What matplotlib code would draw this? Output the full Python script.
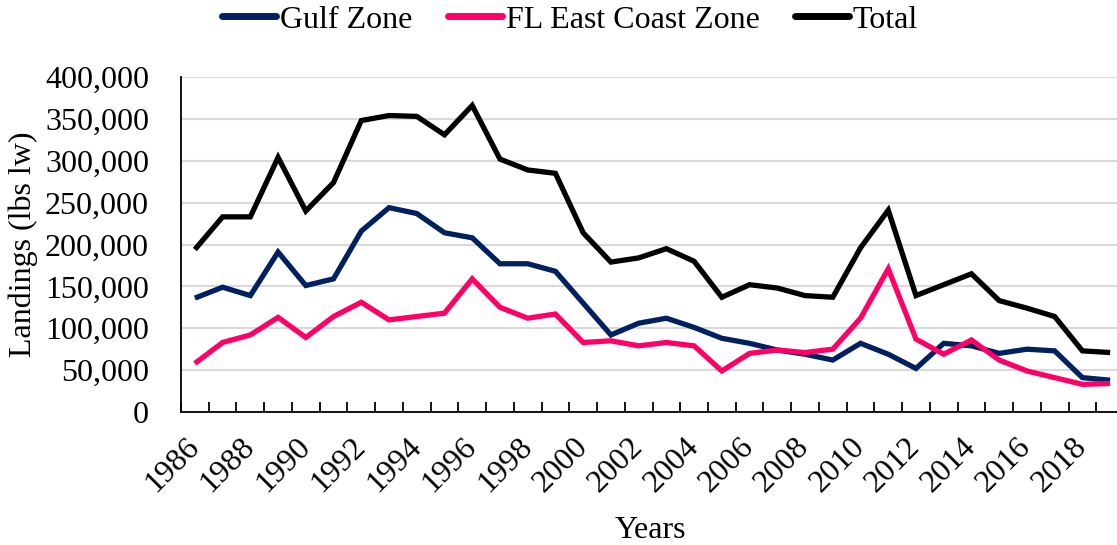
import matplotlib
matplotlib.use("Agg")
import matplotlib.pyplot as plt
from matplotlib.ticker import FuncFormatter, FixedLocator

years = list(range(1986, 2020))
gulf = [136000, 149000, 139000, 191000, 151000, 159000, 216000, 244000, 237000, 214000, 208000,
        177000, 177000, 168000, 130000, 92000, 106000, 112000, 101000, 88000, 82000, 74000,
        69000, 62000, 82000, 69000, 52000, 82000, 79000, 70000, 75000, 73000, 41000, 38000]
east = [58000, 83000, 92000, 113000, 89000, 114000, 131000, 110000, 114000, 118000, 159000,
        125000, 112000, 117000, 83000, 85000, 79000, 83000, 79000, 49000, 70000, 74000,
        71000, 75000, 112000, 171000, 87000, 69000, 86000, 62000, 49000, 41000, 33000, 34000]
total = [194000, 233000, 233000, 304000, 240000, 274000, 348000, 354000, 353000, 331000, 366000,
         302000, 289000, 285000, 214000, 179000, 184000, 195000, 180000, 137000, 152000, 148000,
         139000, 137000, 196000, 241000, 139000, 152000, 165000, 133000, 124000, 114000, 73000, 71000]
series_names = ["Gulf Zone", "FL East Coast Zone", "Total"]
colors = ["#002060", "#FF0066", "#000000"]

plt.rcParams['font.family'] = ['Liberation Serif', 'DejaVu Serif']
FS = 23

fig = plt.figure(figsize=(11.17, 5.45), dpi=100)
ax = fig.add_axes([181/1117, (545-412)/545, (1124-181)/1117, (412-77)/545])

x = list(range(len(years)))
for vals, name, c in zip([gulf, east, total], series_names, colors):
    ax.plot(x, vals, color=c, lw=3.8, label=name, solid_joinstyle='miter', solid_capstyle='butt')

ax.set_ylim(0, 400000)
ax.set_xlim(-0.5, len(years) - 0.5)
ax.set_yticks(range(0, 400001, 50000))
ax.yaxis.set_major_formatter(FuncFormatter(lambda v, p: f"{int(v):,}"))
ax.grid(axis='y', color='#D9D9D9', lw=1.5)
ax.set_axisbelow(True)
ax.tick_params(axis='y', length=0, pad=23, labelsize=FS)

ax.xaxis.set_major_locator(FixedLocator([i - 0.5 for i in range(len(years) + 1)]))
ax.xaxis.set_major_formatter(FuncFormatter(lambda v, p: ""))
lab_pos = [i for i, y in enumerate(years) if (y - years[0]) % 2 == 0]
ax.xaxis.set_minor_locator(FixedLocator(lab_pos))
ax.set_xticklabels([str(years[i]) for i in lab_pos], minor=True)
ax.tick_params(axis='x', which='major', direction='in', length=7, width=1.3, color='black')
ax.tick_params(axis='x', which='minor', length=0, pad=22, labelsize=FS)
for lbl in ax.get_xticklabels(minor=True):
    lbl.set_rotation(45)
    lbl.set_ha('right')
    lbl.set_va('center')
    lbl.set_rotation_mode('anchor')

for s in ['top', 'right']:
    ax.spines[s].set_visible(False)
for s in ['left', 'bottom']:
    ax.spines[s].set_linewidth(1.3)
    ax.spines[s].set_color('black')

ax.set_ylabel("Landings (lbs lw)", fontsize=FS, labelpad=5)
fig.text(650/1117, 1 - 530/545, "Years", fontsize=FS, ha='center', va='center')

leg = fig.legend(loc='center', bbox_to_anchor=(570/1117, 1 - 20/545), ncol=3, frameon=False,
                 fontsize=FS, handlelength=1.7, handletextpad=0.12, columnspacing=1.1,
                 borderaxespad=0, borderpad=0)
for h in leg.get_lines():
    h.set_linewidth(5)
    h.set_solid_capstyle('round')

fig.savefig("out.png", dpi=100)
